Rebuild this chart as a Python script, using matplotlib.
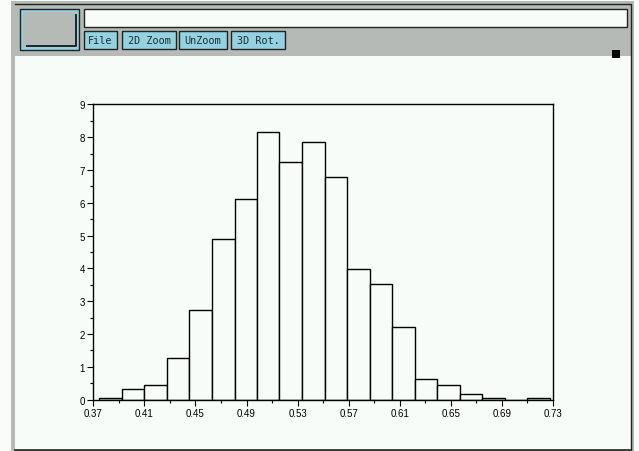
import matplotlib
matplotlib.use('Agg')
import matplotlib.pyplot as plt
from matplotlib.patches import Rectangle
import numpy as np

# histogram data (20 equal bins, normalised density)
bin_edges = [0.3747, 0.3923, 0.4100, 0.4276, 0.4453, 0.4629, 0.4806,
             0.4982, 0.5158, 0.5335, 0.5511, 0.5688, 0.5864, 0.6041,
             0.6217, 0.6394, 0.6570, 0.6747, 0.6923, 0.7100, 0.7276]
densities = [0.05, 0.33, 0.45, 1.26, 2.73, 4.89, 6.10, 8.17, 7.24, 7.86,
             6.79, 3.99, 3.54, 2.21, 0.62, 0.44, 0.17, 0.06, 0.0, 0.06]
x_ticks = [0.37, 0.41, 0.45, 0.49, 0.53, 0.57, 0.61, 0.65, 0.69, 0.73]
y_ticks = [0, 1, 2, 3, 4, 5, 6, 7, 8, 9]
buttons = ['File', '2D Zoom', 'UnZoom', '3D Rot.']

W, H = 639, 452
gray = '#b6bab6'
cyan = '#94d2e2'
paper = '#f8fcf8'
dark = '#202420'

fig = plt.figure(figsize=(W / 100, H / 100), dpi=100)
fig.patch.set_facecolor('#fafcfa')

# window chrome in pixel coordinates
bg = fig.add_axes([0, 0, 1, 1])
bg.set_xlim(0, W)
bg.set_ylim(H, 0)
bg.axis('off')
bg.add_patch(Rectangle((11, 2), 623, 450, facecolor=gray, edgecolor='none'))
bg.add_patch(Rectangle((15, 57), 616, 394, facecolor=paper, edgecolor='none'))
bg.plot([15, 630.5, 630.5], [5, 5, 451], color=dark, lw=1)
bg.plot([15, 630.5], [451, 451], color=dark, lw=1.2)

# big button top-left
bg.add_patch(Rectangle((20, 10), 59, 41, facecolor=cyan, edgecolor=dark, lw=1))
bg.add_patch(Rectangle((23, 13), 53, 35, facecolor=gray, edgecolor='none'))
bg.plot([27, 76, 76], [47, 47, 16], color=dark, lw=1.4)

# text field
bg.add_patch(Rectangle((84, 10), 543, 18, facecolor=paper, edgecolor=dark, lw=1))

# menu buttons
btn_x = [84, 122, 179, 231]
btn_w = [33, 54, 48, 54]
for name, bx, bw in zip(buttons, btn_x, btn_w):
    bg.add_patch(Rectangle((bx, 32), bw, 18, facecolor=cyan, edgecolor=dark, lw=1))
    bg.text(bx + bw / 2, 41.5, name, ha='center', va='center',
            fontsize=7.3, family='DejaVu Sans Mono', color='#1c2c30')

bg.add_patch(Rectangle((612, 51), 8, 8, facecolor='black', edgecolor='none'))

# histogram axes
ax = fig.add_axes([93.3 / W, 1 - 400.7 / H, (553 - 93.3) / W, (400.7 - 105.3) / H])
ax.set_facecolor(paper)
ax.bar(bin_edges[:-1], densities, width=np.diff(bin_edges), align='edge',
       facecolor=paper, edgecolor='black', linewidth=1)
ax.set_xlim(0.37, 0.73)
ax.set_ylim(0, 9)
ax.set_xticks(x_ticks)
ax.set_xticklabels([f'{v:.2f}' for v in x_ticks])
ax.set_xticks(np.arange(0.39, 0.72, 0.04), minor=True)
ax.set_yticks(y_ticks)
ax.set_yticks(np.arange(0.5, 9, 1.0), minor=True)
ax.tick_params(which='major', direction='out', length=4, width=0.8,
               labelsize=7, pad=2, colors='black')
ax.tick_params(which='minor', direction='out', length=2.5, width=0.8)
for lab in ax.get_xticklabels() + ax.get_yticklabels():
    lab.set_family('Liberation Sans')
for sp in ax.spines.values():
    sp.set_linewidth(1)

plt.savefig('out.png', dpi=100)
plt.close()
